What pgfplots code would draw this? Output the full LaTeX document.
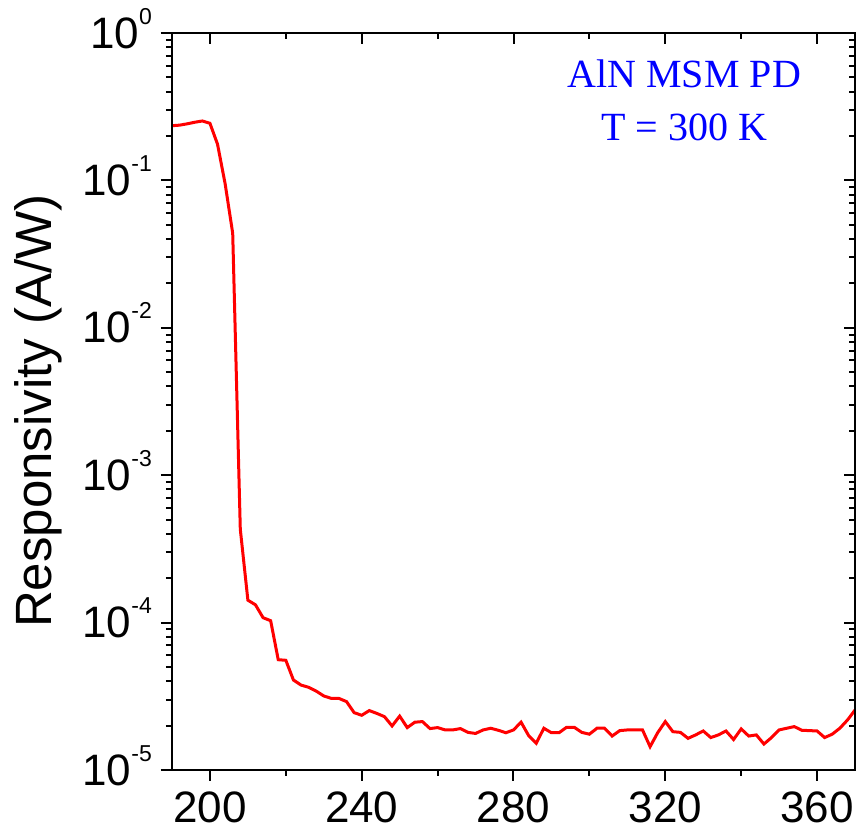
\documentclass[border=0pt]{standalone}
\usepackage{pgfplots}
\pgfplotsset{compat=1.18}
\usepackage{fontspec}
\setmainfont{Liberation Sans}
\newfontfamily\serifannot{Liberation Serif}
\newcommand\dec[1]{10\raisebox{12pt}[0pt][0pt]{\fontsize{11.5}{11.5}\selectfont #1}}
\pgfplotstableread{
x y
190 0.235
192 0.237
194 0.242
196 0.248
198 0.253
200 0.244
202 0.176
204 0.095
206 0.0438
208 4.3e-4
210 1.42e-4
212 1.32e-4
214 1.08e-4
216 1.03e-4
218 5.6e-5
220 5.55e-5
222 4.08e-5
224 3.77e-5
226 3.64e-5
228 3.43e-5
230 3.18e-5
232 3.06e-5
234 3.06e-5
236 2.91e-5
238 2.45e-5
240 2.35e-5
242 2.53e-5
244 2.42e-5
246 2.30e-5
248 1.99e-5
250 2.32e-5
252 1.94e-5
254 2.11e-5
256 2.13e-5
258 1.91e-5
260 1.94e-5
262 1.87e-5
264 1.87e-5
266 1.91e-5
268 1.80e-5
270 1.77e-5
272 1.87e-5
274 1.92e-5
276 1.86e-5
278 1.79e-5
280 1.87e-5
282 2.11e-5
284 1.71e-5
286 1.52e-5
288 1.92e-5
290 1.79e-5
292 1.79e-5
294 1.95e-5
296 1.95e-5
298 1.80e-5
300 1.75e-5
302 1.92e-5
304 1.92e-5
306 1.70e-5
308 1.85e-5
310 1.87e-5
312 1.87e-5
314 1.87e-5
316 1.44e-5
318 1.79e-5
320 2.13e-5
322 1.82e-5
324 1.80e-5
326 1.64e-5
328 1.73e-5
330 1.84e-5
332 1.66e-5
334 1.73e-5
336 1.84e-5
338 1.61e-5
340 1.90e-5
342 1.70e-5
344 1.73e-5
346 1.50e-5
348 1.66e-5
350 1.87e-5
352 1.92e-5
354 1.97e-5
356 1.86e-5
358 1.85e-5
360 1.84e-5
362 1.66e-5
364 1.75e-5
366 1.92e-5
368 2.18e-5
370 2.55e-5
}\datatable
\begin{document}
\begin{tikzpicture}
\path[use as bounding box] (-86pt,-31.5pt) rectangle (343pt,385pt);
\begin{axis}[
    ymode=log,
    at={(0,0)}, anchor=south west,
    scale only axis, width=341.5pt, height=368.5pt,
    xmin=190, xmax=370, ymin=1e-5, ymax=1,
    xtick={200,240,280,320,360},
    minor xtick={220,260,300,340},
    ytick={1e-5,1e-4,1e-3,1e-2,1e-1,1},
    minor ytick={2e-5,3e-5,4e-5,5e-5,6e-5,7e-5,8e-5,9e-5,
                 2e-4,3e-4,4e-4,5e-4,6e-4,7e-4,8e-4,9e-4,
                 2e-3,3e-3,4e-3,5e-3,6e-3,7e-3,8e-3,9e-3,
                 2e-2,3e-2,4e-2,5e-2,6e-2,7e-2,8e-2,9e-2,
                 2e-1,3e-1,4e-1,5e-1,6e-1,7e-1,8e-1,9e-1},
    axis line style={line width=1pt, black},
    major tick length=5.5pt, minor tick length=3pt,
    tick style={black, line width=1pt},
    tick align=outside, xtick pos=left, ytick pos=left,
    xticklabels={200,240,280,320,360},
    yticklabels={\dec{-5},\dec{-4},\dec{-3},\dec{-2},\dec{-1},\dec{0}},
    tick label style={font=\fontsize{22}{22}\selectfont},
    xticklabel style={yshift=-2pt},
    yticklabel style={xshift=-1pt},
    ylabel={Responsivity (A/W)},
    ylabel style={font=\fontsize{25.5}{25.5}\selectfont,
      at={(axis description cs:-0.195,0.487)}, anchor=center},
  ]
  \addplot[red, line width=1.5pt, no markers] table[x=x,y=y] {\datatable};
  \node[font=\serifannot\fontsize{20}{20}\selectfont, text=blue, anchor=base]
    at (axis description cs:0.75,0.9267) {AlN MSM PD};
  \node[font=\serifannot\fontsize{20}{20}\selectfont, text=blue, anchor=base]
    at (axis description cs:0.75,0.8548) {T = 300 K};
\end{axis}
\begin{axis}[
    ymode=log,
    at={(0,0)}, anchor=south west,
    scale only axis, width=341.5pt, height=368.5pt,
    xmin=190, xmax=370, ymin=1e-5, ymax=1,
    xtick={200,240,280,320,360},
    minor xtick={220,260,300,340},
    ytick={1e-5,1e-4,1e-3,1e-2,1e-1,1},
    minor ytick={2e-5,3e-5,4e-5,5e-5,6e-5,7e-5,8e-5,9e-5,
                 2e-4,3e-4,4e-4,5e-4,6e-4,7e-4,8e-4,9e-4,
                 2e-3,3e-3,4e-3,5e-3,6e-3,7e-3,8e-3,9e-3,
                 2e-2,3e-2,4e-2,5e-2,6e-2,7e-2,8e-2,9e-2,
                 2e-1,3e-1,4e-1,5e-1,6e-1,7e-1,8e-1,9e-1},
    axis line style={line width=1pt, black},
    major tick length=5.5pt, minor tick length=3pt,
    tick style={black, line width=1pt},
    tick align=inside, xtick pos=right, ytick pos=right,
    xticklabels={}, yticklabels={},
  ]
  \addplot[draw=none, forget plot] coordinates {(200,1e-3)};
\end{axis}
\draw[line width=1pt] (-5.5pt,0) -- (0,0);
\draw[line width=1pt] (-5.5pt,368.5pt) -- (0,368.5pt);
\end{tikzpicture}
\end{document}
